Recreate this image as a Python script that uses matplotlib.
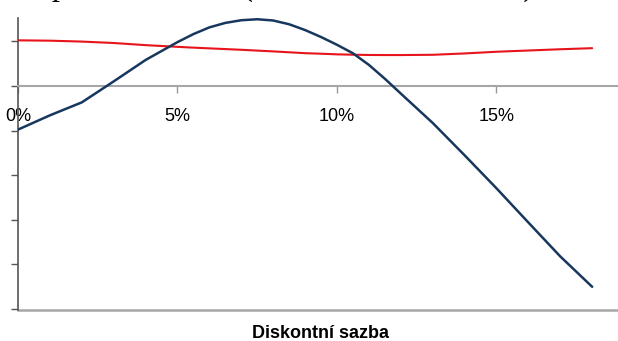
import matplotlib
matplotlib.use("Agg")
import matplotlib.pyplot as plt
from matplotlib.ticker import FuncFormatter

# Discount rate in percent
rates = [0, 1, 2, 3, 4, 5, 5.5, 6, 6.5, 7, 7.5, 8, 8.5, 9, 9.5, 10, 10.5,
         11, 11.5, 12, 13, 14, 15, 16, 17, 18]

# NPV of project A (non-conventional cash flows)
npv_a = [-49, -33, -18.5, 5, 29, 49, 58, 65.5, 70.5, 73.5, 74.6, 73.2, 69,
         62.5, 54.7, 46, 36.5, 23.5, 8, -8.6, -41.5, -77.7, -114.7, -153,
         -191, -225]

# NPV of project B
npv_b = [51, 50.6, 49.6, 48, 45.6, 43.7, 42.8, 42, 41.2, 40.4, 39.5, 38.6,
         37.6, 36.6, 36, 35.3, 34.9, 34.6, 34.5, 34.5, 34.8, 36.3, 38.2,
         39.6, 41, 42.2]

x_ticks = [0, 5, 10, 15]
y_ticks = [50, 0, -50, -100, -150, -200, -250]

title_text = "Graf průběhu NPV (v závislosti na sazbě)"
x_label = "Diskontní sazba"

W, H = 618, 341
fig = plt.figure(figsize=(W / 100, H / 100), dpi=100)
ax = fig.add_axes([18 / W, 31 / H, 1 - 18 / W, (310 - 18) / H])

ax.plot(rates, npv_b, color="#e8141b", lw=1.5, solid_capstyle="round", zorder=3)
ax.plot(rates, npv_a, color="#17375e", lw=1.8, solid_capstyle="round",
        solid_joinstyle="round", zorder=4)

ax.set_xlim(0, 18.81)
ax.set_ylim(-251, 76)

for s in ("top", "right"):
    ax.spines[s].set_visible(False)
ax.spines["left"].set_color("#555555")
ax.spines["left"].set_linewidth(1.2)
ax.spines["bottom"].set_position(("data", 0))
ax.spines["bottom"].set_color("#a6a6a6")
ax.spines["bottom"].set_linewidth(1.5)

# bottom border of the plot area
ax.plot([0, 1], [0, 0], transform=ax.transAxes, color="#a6a6a6", lw=1.8,
        clip_on=False, zorder=2)

ax.set_xticks(x_ticks)
ax.xaxis.set_major_formatter(FuncFormatter(lambda v, p: f"{v:g}%"))
ax.tick_params(axis="x", direction="out", length=5, width=1, color="#999999",
               pad=11, labelsize=13)
for lab in ax.get_xticklabels():
    lab.set_fontfamily("Liberation Sans")

ax.set_yticks(y_ticks)
ax.set_yticklabels([])
ax.tick_params(axis="y", direction="out", length=5, width=1, color="#555555")

fig.text(321 / W, 3 / H, x_label, ha="center", va="baseline",
         fontsize=13, fontweight="bold", family="Liberation Sans")

fig.text(-17 / W, 1 + 5 / H, title_text, ha="left", va="baseline",
         fontsize=23.8, family="Liberation Serif")

fig.savefig("out.png", dpi=100)
